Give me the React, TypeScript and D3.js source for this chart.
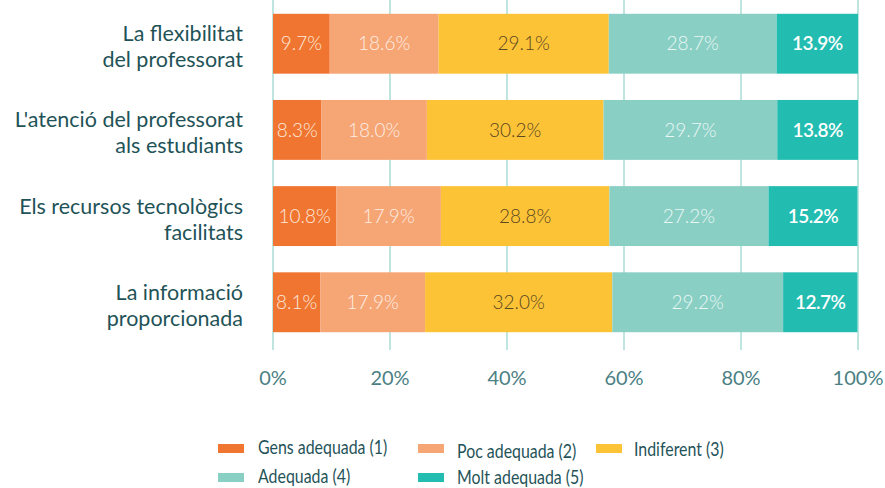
import React from "react";
import * as d3 from "d3";

const categories = [
  ["La flexibilitat", "del professorat"],
  ["L'atenció del professorat", "als estudiants"],
  ["Els recursos tecnològics", "facilitats"],
  ["La informació", "proporcionada"],
];
const seriesNames = ["Gens adequada (1)", "Poc adequada (2)", "Indiferent (3)", "Adequada (4)", "Molt adequada (5)"];
const gens = [9.7, 8.3, 10.8, 8.1];
const poc = [18.6, 18.0, 17.9, 17.9];
const indif = [29.1, 30.2, 28.8, 32.0];
const adeq = [28.7, 29.7, 27.2, 29.2];
const molt = [13.9, 13.8, 15.2, 12.7];
const xTicks = [0, 20, 40, 60, 80, 100];

const colors = ["#f07531", "#f6a575", "#fdc337", "#89cfc4", "#22bcb0"];
const labelColors = ["#fde9dc", "#fdeee4", "#5b4720", "#eaf7f5", "#ffffff"];
const labelWeights = [300, 300, 300, 300, 600];
const FONT = "'Source Sans Pro', Lato, 'Open Sans', sans-serif";

export default function App() {
  const W = 885, H = 488;
  const series = [gens, poc, indif, adeq, molt];
  const x = d3.scaleLinear().domain([0, 100]).range([273, 858]);
  const y = d3.scaleBand<number>().domain(d3.range(categories.length)).range([0, 346]).paddingInner(0.305).paddingOuter(0.16);
  const rows = categories.map((_, i) => {
    let acc = 0;
    return series.map((s, k) => {
      const start = acc;
      acc += s[i];
      return { k, start, end: acc, v: s[i] };
    });
  });
  const legend = [
    { k: 0, sx: 218, sy: 444, tx: 258, ty: 454 },
    { k: 1, sx: 418, sy: 444, tx: 457, ty: 458 },
    { k: 2, sx: 596, sy: 444, tx: 634, ty: 456 },
    { k: 3, sx: 218, sy: 473, tx: 258, ty: 483 },
    { k: 4, sx: 418, sy: 473, tx: 457, ty: 484 },
  ];
  return (
    <svg width={W} height={H} style={{ position: "absolute", left: 0, top: 0, fontFamily: FONT }}>
      {xTicks.map((t) => (
        <line key={t} x1={x(t)} x2={x(t)} y1={0} y2={350} stroke="#a9ddd5" strokeWidth={1.5} />
      ))}
      {rows.map((segs, i) => (
        <g key={i}>
          {segs.map((s) => (
            <rect key={s.k} x={x(s.start)} y={y(i)} width={x(s.end) - x(s.start)} height={y.bandwidth()} fill={colors[s.k]} />
          ))}
          {segs.map((s) => (
            <text key={"t" + s.k} x={(x(s.start) + x(s.end)) / 2} y={y(i)! + y.bandwidth() / 2} dy="0.35em" textAnchor="middle" fontSize={19} fill={labelColors[s.k]} fontWeight={labelWeights[s.k]} letterSpacing={s.k === 4 ? -0.5 : 0}>
              {s.v.toFixed(1)}%
            </text>
          ))}
          {categories[i].map((line, j) => (
            <text key={"c" + j} x={243} y={y(i)! + y.bandwidth() / 2 + (j === 0 ? -10 : 16)} dy="0.35em" textAnchor="end" fontSize={21.5} fill="#1f5358">
              {line}
            </text>
          ))}
        </g>
      ))}
      {xTicks.map((t) => (
        <text key={"x" + t} x={x(t)} y={378} dy="0.35em" textAnchor="middle" fontSize={20} fill="#4b7f84">
          {t}%
        </text>
      ))}
      {legend.map((l) => (
        <g key={"l" + l.k}>
          <rect x={l.sx} y={l.sy} width={26} height={9} fill={colors[l.k]} />
          <text transform={`translate(${l.tx},${l.ty}) scale(0.86,1)`} fontSize={18.5} fill="#1f5358">{seriesNames[l.k]}</text>
        </g>
      ))}
    </svg>
  );
}
